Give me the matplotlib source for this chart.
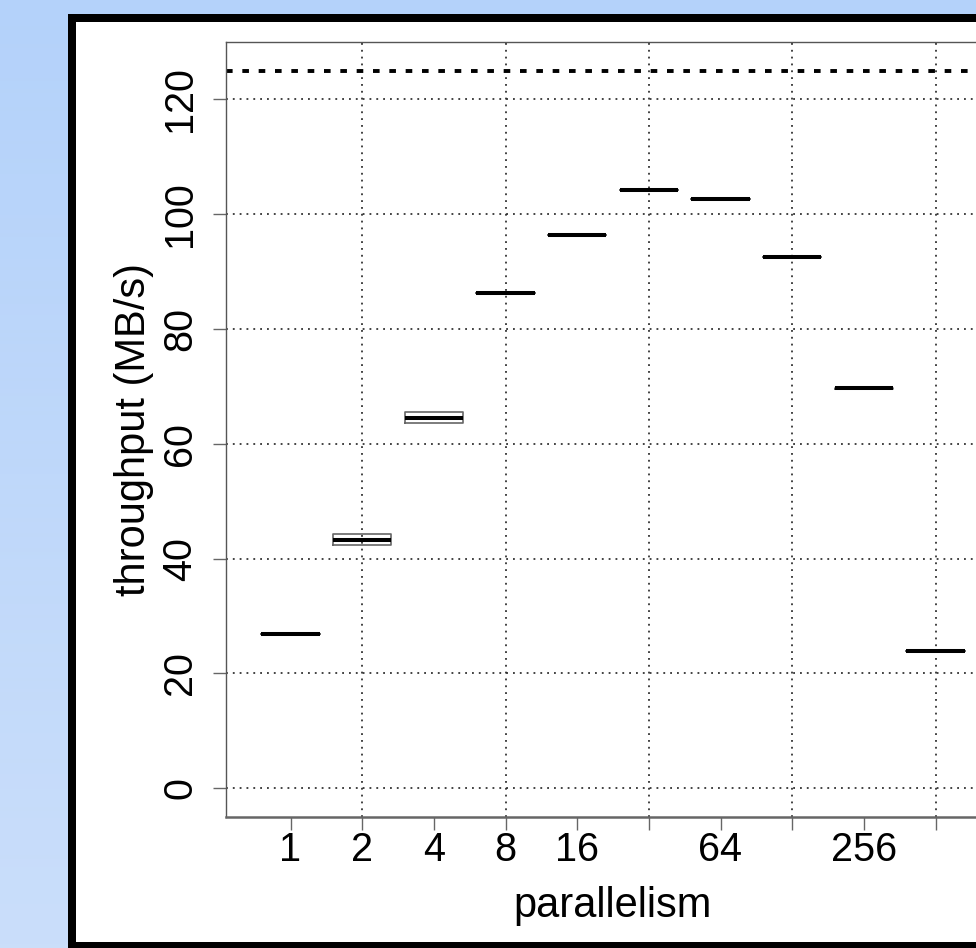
import numpy as np
import matplotlib
matplotlib.use("Agg")
import matplotlib.pyplot as plt
from matplotlib.patches import Rectangle

# ---- data ----
categories = ["1", "2", "4", "8", "16", "32", "64", "128", "256", "512"]
shown_labels = ["1", "2", "4", "8", "16", "", "64", "", "256", ""]
medians = [26.9, 43.3, 64.5, 86.2, 96.3, 104.2, 102.6, 92.6, 69.7, 23.9]
q1 = [26.9, 42.4, 63.6, 86.2, 96.3, 104.2, 102.6, 92.6, 69.6, 23.9]
q3 = [26.9, 44.3, 65.6, 86.2, 96.3, 104.2, 102.6, 92.6, 69.8, 23.9]
link_capacity = 125
y_ticks = [0, 20, 40, 60, 80, 100, 120]

W, H = 976, 948
fig = plt.figure(figsize=(W / 100, H / 100), dpi=100)
plt.rcParams['font.family'] = ['Liberation Sans', 'DejaVu Sans']

# background gradient
bg = fig.add_axes([0, 0, 1, 1], zorder=0)
top = np.array([180, 210, 250]) / 255
bot = np.array([202, 222, 250]) / 255
t = np.linspace(0, 1, 256)[:, None]
grad = (top[None, :] * (1 - t) + bot[None, :] * t)[:, None, :]
bg.imshow(grad, aspect='auto', extent=[0, 1, 0, 1], origin='upper')
bg.set_xlim(0, 1)
bg.set_ylim(0, 1)
bg.axis('off')

# panel with black border
bg.add_patch(Rectangle((68 / W, -0.05), 1.2, 1 - 14 / H + 0.05, facecolor='black',
                       edgecolor='none', transform=bg.transAxes))
bg.add_patch(Rectangle((76 / W, 1 - 942 / H), 1.2, (942 - 22) / H, facecolor='white',
                       edgecolor='none', transform=bg.transAxes))

# main axes (extends past right edge as in the cropped reference)
left, right, topp, bottom = 226, 1000, 42, 817
ax = fig.add_axes([left / W, 1 - bottom / H, (right - left) / W, (bottom - topp) / H], zorder=2)
ax.set_facecolor('none')

positions = np.arange(1, len(categories) + 1)
stats = []
for c, m, a, b in zip(categories, medians, q1, q3):
    stats.append(dict(label=c, med=m, q1=a, q3=b, whislo=a, whishi=b, fliers=[]))
ax.bxp(stats, positions=positions, widths=0.81, showcaps=False, showfliers=False,
       boxprops=dict(color='#666666', linewidth=1.2),
       whiskerprops=dict(color='#666666', linewidth=1.0, linestyle='--'),
       medianprops=dict(color='black', linewidth=2.9, solid_capstyle='butt'),
       manage_ticks=False, zorder=3)

ax.set_xlim(0.1, 10.9)
ax.set_ylim(-5, 130)

dot = (0, (1.1, 3.0))
for y in y_ticks:
    ax.axhline(y, color='#222222', linewidth=1.2, linestyle=dot, zorder=1)
for p in positions[1::2]:
    ax.axvline(p, color='#222222', linewidth=1.2, linestyle=dot, zorder=1)

ax.axhline(link_capacity, color='black', linewidth=2.8, linestyle=(0, (1.7, 2.5)), zorder=2)

ax.set_xticks(positions)
ax.set_xticklabels(shown_labels)
ax.set_yticks(y_ticks)
ax.set_yticklabels([str(v) for v in y_ticks], rotation=90, va='center')

ax.tick_params(axis='both', direction='out', length=9.4, width=1.0, color='#666666',
               labelsize=28.5, labelcolor='black')
ax.tick_params(axis='x', pad=1)
ax.tick_params(axis='y', pad=10)

for s in ['left', 'top', 'right']:
    ax.spines[s].set_color('#555555')
    ax.spines[s].set_linewidth(1.0)
ax.spines['bottom'].set_color('#666666')
ax.spines['bottom'].set_linewidth(1.8)

ax.set_xlabel('parallelism', fontsize=30, labelpad=12)
ax.set_ylabel('throughput (MB/s)', fontsize=30, labelpad=5)

fig.savefig('out.png', dpi=100)
